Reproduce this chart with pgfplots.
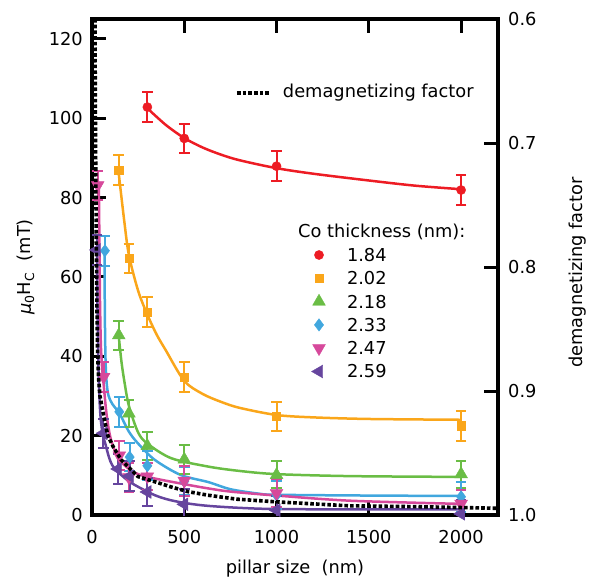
\documentclass[border=0pt]{standalone}
\usepackage{fontspec}
\setmainfont{DejaVu Sans}
\usepackage{pgfplots}
\pgfplotsset{compat=1.18}

\definecolor{cred}{RGB}{237,28,36}
\definecolor{corange}{RGB}{250,166,26}
\definecolor{cgreen}{RGB}{106,189,69}
\definecolor{cblue}{RGB}{65,167,222}
\definecolor{cpink}{RGB}{214,73,155}
\definecolor{cpurple}{RGB}{102,69,158}

\pgfplotsset{
  dat/.style={only marks, mark options={solid, line width=0.4pt},
    legend image code/.code={%
      \begin{pgfinterruptboundingbox}\draw[##1] plot coordinates {(0bp,0bp)};\end{pgfinterruptboundingbox}%
      \path[draw=none, fill=none] (-7bp,-6.4bp) rectangle (28bp,6.4bp);},
    error bars/y dir=both, error bars/y explicit,
    error bars/error bar style={line width=2bp, solid},
    error bars/error mark options={rotate=90, line width=2bp, mark size=5.3bp}},
  fit/.style={line width=2.5bp, smooth, no marks, forget plot},
}

\begin{document}
\begin{tikzpicture}[font=\fontsize{17.8bp}{21bp}\selectfont]
\useasboundingbox (0,0) rectangle (589bp,578bp);
\begin{axis}[
  at={(92bp,63bp)}, anchor=south west,
  width=406bp, height=496bp, scale only axis,
  xmin=0, xmax=2200, ymin=0, ymax=125,
  xtick={0,500,1000,1500,2000},
  ytick={0,20,40,60,80,100,120},
  ytick pos=left, xtick pos=both, xticklabel pos=bottom,
  tick align=inside, major tick length=14bp,
  axis line style={line width=3.3bp},
  major tick style={line width=3bp, black},
  /pgf/number format/assume math mode=true,
  /pgf/number format/1000 sep={},
  tick label style={font=\fontsize{17.8bp}{21bp}\selectfont},
  xticklabel style={anchor=base, inner sep=0pt, yshift=-28bp},
  yticklabel style={anchor=east, inner sep=0pt, xshift=-9bp},
  xlabel={pillar size~~(nm)},
  ylabel={\textit{μ}\textsubscript{0}H\textsubscript{C}~~(mT)},
  every axis x label/.style={at={(axis description cs:0.5,0)}, anchor=base, inner sep=0pt, yshift=-58bp},
  every axis y label/.style={at={(axis description cs:-0.1626,0.5)}, rotate=90, anchor=center, inner sep=0pt},
  legend cell align=left,
  legend style={at={(axis description cs:0.5419,0.5371)}, anchor=north west,
    draw=none, fill=none, inner sep=0pt, outer sep=0pt,
    /tikz/column sep=0pt, /tikz/row sep=10.5bp,
    nodes={inner sep=0pt, text height=12.8bp, text depth=0pt}},
]
% fitted curves
\addplot[fit, cred] coordinates {(300,102.5)(400,98.3)(500,95)(600,92.6)(700,90.8)(800,89.4)(1000,87.4)(1200,86)(1500,84.3)(1750,83)(2000,82.1)};
\addplot[fit, corange] coordinates {(145,86)(175,74)(200,65.5)(250,56.5)(300,50.5)(350,45.5)(400,41.5)(500,33.8)(600,30.5)(700,28.5)(800,27)(1000,25.2)(1200,24.6)(1500,24.2)(2000,24)};
\addplot[fit, cgreen] coordinates {(145,45)(160,38.5)(176,33.5)(200,27.5)(250,20.8)(300,18)(430,14.3)(630,12.2)(800,11.1)(1000,10.3)(1400,9.8)(2000,9.6)};
\addplot[fit, cblue] coordinates {(68,67)(69,55)(71,45)(74,38)(80,33)(90,30)(110,28)(150,25.5)(200,21)(250,18)(340,13.9)(480,10.1)(630,8.3)(750,6.5)(900,5.4)(1000,5.1)(1500,4.9)(2000,4.8)};
\addplot[fit, cpink] coordinates {(37,83)(40,70)(43,55)(48,43)(55,37)(62,33.5)(75,27)(86,23)(100,19.5)(122,16.4)(150,13.8)(195,11.8)(250,10.3)(340,9.2)(520,7.6)(630,6.7)(750,5.9)(1000,4.9)(1400,3.6)(2000,2.8)};
\addplot[fit, cpurple] coordinates {(27,67)(29,55)(32,45)(36,35)(43,27)(50,23)(60,20)(75,17.5)(86,15.5)(100,13.5)(120,11.8)(158,10.1)(200,8.5)(250,7.1)(340,5)(420,3.8)(520,2.9)(630,2.3)(800,1.8)(1000,1.5)(1500,1.4)(2000,1.4)};
% measured points
\addplot[dat, color=cred, mark=*, mark size=4.6bp] table[x=x, y=y, y error=e] {
x y e
300 102.8 3.7
500 94.9 3.7
1000 87.9 3.8
2000 81.9 3.7
};
\addlegendentry{1.84}
\addplot[dat, color=corange, mark=square*, mark size=4.1bp] table[x=x, y=y, y error=e] {
x y e
145 86.9 3.7
200 64.7 3.7
300 51.2 3.7
500 34.8 3.7
1000 24.9 3.7
2000 22.5 3.8
};
\addlegendentry{2.02}
\addplot[dat, color=cgreen, mark=triangle*, mark size=7.4bp] table[x=x, y=y, y error=e] {
x y e
145 45.3 3.7
200 25.6 3.5
300 17.4 3.6
500 14.0 3.6
1000 10.1 3.4
2000 10.3 3.4
};
\addlegendentry{2.18}
\addplot[dat, color=cblue, mark=diamond*, mark size=6.2bp] table[x=x, y=y, y error=e] {
x y e
70 66.6 3.8
148 26.0 3.8
204 14.6 3.6
300 12.4 3.7
500 8.5 3.5
1000 5.0 3.5
2000 4.6 3.8
};
\addlegendentry{2.33}
\addplot[dat, color=cpink, mark=triangle*, mark size=7.4bp, mark options={rotate=180}] table[x=x, y=y, y error=e] {
x y e
31 83.1 3.7
63 34.8 3.7
148 15.0 3.7
200 9.5 3.7
300 9.7 3.5
500 8.6 3.8
1000 5.5 3.5
2000 2.8 3.5
};
\addlegendentry{2.47}
\addplot[dat, color=cpurple, mark=triangle*, mark size=7.4bp, mark options={rotate=90}] table[x=x, y=y, y error=e] {
x y e
26 66.8 3.8
62 20.6 3.6
141 11.6 3.7
204 9.8 3.7
300 5.8 3.6
500 2.7 3.8
1000 1.2 3.5
2000 0.3 3.5
};
\addlegendentry{2.59}
\node[anchor=base west, inner sep=0pt] at (axis description cs:0.5074,0.5595) {Co thickness (nm):};
\end{axis}

\begin{axis}[
  at={(92bp,63bp)}, anchor=south west,
  width=406bp, height=496bp, scale only axis,
  xmin=0, xmax=2200, ymin=0.6, ymax=1.0, y dir=reverse,
  axis x line=none, axis y line*=right,
  ytick={0.6,0.7,0.8,0.9,1.0},
  yticklabels={0.6,0.7,0.8,0.9,1.0},
  tick align=inside, major tick length=14bp,
  axis line style={line width=3.3bp},
  major tick style={line width=3bp, black},
  tick label style={font=\fontsize{17.8bp}{21bp}\selectfont},
  yticklabel style={anchor=west, inner sep=0pt, xshift=10bp},
  ylabel={demagnetizing factor},
  every axis y label/.style={at={(axis description cs:1.197,0.489)}, rotate=90, anchor=center, inner sep=0pt},
  legend cell align=left,
  legend style={at={(axis description cs:0.3571,0.8508)}, anchor=west,
    draw=none, fill=none, inner sep=0pt, outer sep=0pt,
    /tikz/column sep=0pt,
    nodes={inner sep=0pt, text height=13bp, text depth=3.5bp}},
  legend image code/.code={%
    \begin{pgfinterruptboundingbox}\draw[#1] (0bp,0bp) -- (33bp,0bp);\end{pgfinterruptboundingbox}%
    \path[draw=none, fill=none] (0bp,-8.25bp) rectangle (46bp,8.25bp);},
]
\addplot[black, line width=3.6bp, dash pattern=on 3.6bp off 2.1bp, no marks] coordinates {
(16,0.6)(18,0.664)(20,0.712)(23,0.776)(26,0.824)(30,0.8656)(35,0.888)(43,0.904)(55,0.9136)(70,0.9250)(86,0.9360)(115,0.9450)(158,0.9555)(249,0.9690)(339,0.9731)(427,0.9773)(519,0.9811)(627,0.9840)(782,0.9872)(1000,0.9894)(1395,0.9926)(1773,0.9933)(2200,0.9946)};
\addlegendentry{demagnetizing factor}
\end{axis}
\end{tikzpicture}
\end{document}
